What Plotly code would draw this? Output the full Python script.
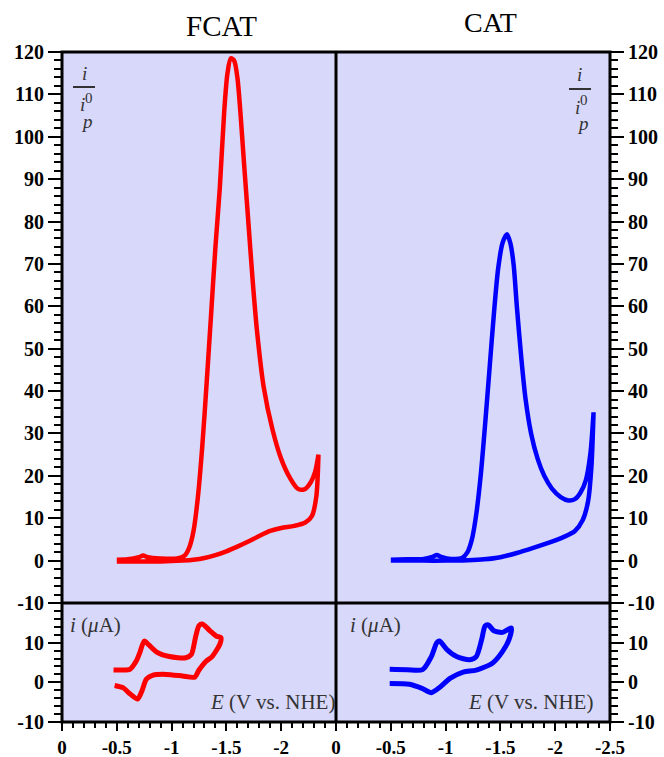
import plotly.graph_objects as go

# ---------------- data ----------------
# FCAT main CV (normalised current i/i0p vs E)
fcat_fwd_E = [-0.50, -0.60, -0.70, -0.74, -0.78, -0.90, -1.05, -1.12, -1.16, -1.20, -1.24, -1.28,
              -1.32, -1.36, -1.40, -1.44, -1.48, -1.51, -1.54, -1.57, -1.60, -1.63, -1.66, -1.70,
              -1.74, -1.78, -1.84, -1.92, -2.00, -2.08, -2.15, -2.21, -2.27, -2.31, -2.34]
fcat_fwd_i = [0.2, 0.3, 0.8, 1.2, 0.8, 0.5, 0.5, 1.2, 3, 7, 15, 27,
              42, 58, 74, 88, 106, 115, 118.5, 118, 114, 105, 94, 80,
              66, 54, 41, 31, 24, 19.5, 17, 16.8, 18.5, 21, 25]
fcat_rev_E = [-2.34, -2.32, -2.28, -2.22, -2.12, -2.00, -1.90, -1.80, -1.70, -1.60, -1.50,
              -1.40, -1.30, -1.20, -1.10, -0.90, -0.70, -0.50]
fcat_rev_i = [25, 15, 10.5, 9, 8.2, 7.7, 7, 5.8, 4.5, 3.3, 2.2, 1.3, 0.6, 0.2, 0, -0.2, -0.2, -0.2]

# CAT main CV
cat_fwd_E = [-0.50, -0.65, -0.80, -0.88, -0.92, -0.96, -1.05, -1.15, -1.20, -1.24, -1.28, -1.32,
             -1.36, -1.40, -1.44, -1.48, -1.52, -1.56, -1.59, -1.62, -1.65, -1.69, -1.73, -1.78,
             -1.84, -1.90, -1.97, -2.05, -2.12, -2.18, -2.23, -2.28, -2.32, -2.35]
cat_fwd_i = [0.2, 0.3, 0.4, 0.9, 1.3, 0.9, 0.4, 0.6, 2, 5, 11, 20,
             32, 45, 58, 69, 75, 77, 75, 70, 60, 48, 38, 30,
             24, 20, 17, 15, 14.2, 14.5, 16, 19, 25, 35]
cat_rev_E = [-2.35, -2.33, -2.30, -2.25, -2.18, -2.08, -1.95, -1.80, -1.65, -1.50, -1.35, -1.20,
             -1.00, -0.80, -0.50]
cat_rev_i = [35, 22, 14, 9.5, 7, 5.6, 4.3, 3, 1.8, 0.8, 0.3, 0.1, 0, 0, 0]

# FCAT inset CV (i in uA)
fcat_in_E = [-0.47, -0.55, -0.62, -0.68, -0.71, -0.75, -0.79, -0.86, -0.98, -1.13, -1.18,
             -1.22, -1.25, -1.28, -1.35, -1.41, -1.45,
             -1.44, -1.37, -1.31, -1.25, -1.21, -1.10, -0.95, -0.83, -0.77, -0.73, -0.69,
             -0.62, -0.56, -0.48]
fcat_in_i = [3.1, 3.1, 3.3, 5.5, 7.5, 10.4, 9.5, 7.7, 6.5, 6.2, 7.0,
             11.6, 14.3, 14.7, 13.0, 11.6, 11.3,
             9.6, 6.5, 5.2, 3.1, 1.3, 1.6, 2.0, 1.8, 0.8, -2.1, -4.2,
             -2.9, -1.4, -0.8]

# CAT inset CV (i in uA)
cat_in_E = [-0.49, -0.65, -0.79, -0.87, -0.92, -0.945, -1.01, -1.10, -1.22, -1.28, -1.33,
            -1.36, -1.39, -1.44, -1.52, -1.60,
            -1.58, -1.52, -1.43, -1.28, -1.16, -1.04, -0.945, -0.87, -0.79, -0.67, -0.49]
cat_in_i = [3.3, 3.2, 3.2, 6.5, 10.0, 10.4, 8.3, 6.5, 5.7, 6.5, 10.9,
            14.2, 14.5, 13.0, 12.6, 13.7,
            10.9, 7.8, 4.9, 3.1, 2.6, 1.0, -1.3, -2.6, -1.6, -0.5, -0.3]

titles = ["FCAT", "CAT"]
y_main_ticks = [-10, 0, 10, 20, 30, 40, 50, 60, 70, 80, 90, 100, 110, 120]
y_main_labels = ["-10", "0", "10", "20", "30", "40", "50", "60", "70", "80", "90", "100", "110", "120"]
y_in_ticks = [-10, 0, 10]
y_in_labels = ["-10", "0", "10"]
x_left_ticks = [0, -0.5, -1, -1.5, -2]
x_left_labels = ["0", "-0.5", "-1", "-1.5", "-2"]
x_right_ticks = [0, -0.5, -1, -1.5, -2, -2.5]
x_right_labels = ["0", "-0.5", "-1", "-1.5", "-2", "-2.5"]

# ---------------- layout geometry ----------------
W, H = 664, 757
ML, MR, MT, MB = 62, 54, 52, 35
PW, PH = W - ML - MR, H - MT - MB
INSET = 119 / PH


def px(x):
    return (x - ML) / PW


def py(y):
    return (H - MB - y) / PH


RED = "#ff0000"
BLUE = "#0000ff"
BG = "#d8d8fa"
SERIF = "Liberation Serif, Times New Roman, serif"

fig = go.Figure()
lw_main = 4.5
lw_in = 5
fig.add_trace(go.Scatter(x=fcat_fwd_E + fcat_rev_E, y=fcat_fwd_i + fcat_rev_i, mode="lines",
                         line=dict(color=RED, width=lw_main, shape="spline", smoothing=0.8),
                         xaxis="x", yaxis="y", hoverinfo="skip"))
fig.add_trace(go.Scatter(x=cat_fwd_E + cat_rev_E, y=cat_fwd_i + cat_rev_i, mode="lines",
                         line=dict(color=BLUE, width=lw_main, shape="spline", smoothing=0.8),
                         xaxis="x2", yaxis="y2", hoverinfo="skip"))
fig.add_trace(go.Scatter(x=fcat_in_E, y=fcat_in_i, mode="lines",
                         line=dict(color=RED, width=lw_in, shape="spline", smoothing=0.7),
                         xaxis="x3", yaxis="y3", hoverinfo="skip"))
fig.add_trace(go.Scatter(x=cat_in_E, y=cat_in_i, mode="lines",
                         line=dict(color=BLUE, width=lw_in, shape="spline", smoothing=0.7),
                         xaxis="x4", yaxis="y4", hoverinfo="skip"))

tickfont = dict(family=SERIF, size=20, color="black", weight="bold")
xtickfont = dict(family=SERIF, size=19, color="black", weight="bold")


def xax(domain, anchor, show, tv=None, tt=None):
    d = dict(domain=domain, anchor=anchor, range=[0, -2.5], showgrid=False, zeroline=False,
             showline=False, fixedrange=True)
    if show:
        d.update(tickmode="array", tickvals=tv, ticktext=tt, ticks="outside", ticklen=8,
                 tickwidth=2, tickcolor="black", tickfont=xtickfont, ticklabelstandoff=0,
                 minor=dict(tickmode="linear", tick0=0, dtick=0.1, ticks="outside", ticklen=5,
                            tickwidth=2, tickcolor="black"))
    else:
        d.update(showticklabels=False, ticks="")
    return d


def yax(domain, anchor, side, rng, tv, tt):
    return dict(domain=domain, anchor=anchor, side=side, range=rng, showgrid=False,
                zeroline=False, showline=False, fixedrange=True,
                tickmode="array", tickvals=tv, ticktext=tt, ticks="outside", ticklen=13,
                tickwidth=2, tickcolor="black", tickfont=tickfont, ticklabelstandoff=0,
                minor=dict(tickmode="linear", tick0=0, dtick=2, ticks="outside", ticklen=7,
                           tickwidth=2, tickcolor="black"))


fig.update_layout(
    width=W, height=H,
    margin=dict(l=ML, r=MR, t=MT, b=MB, autoexpand=False),
    paper_bgcolor="white", plot_bgcolor=BG,
    showlegend=False,
    xaxis=xax([0, 0.5], "y", False),
    xaxis2=xax([0.5, 1], "y2", False),
    xaxis3=xax([0, 0.5], "y3", True, x_left_ticks, x_left_labels),
    xaxis4=xax([0.5, 1], "y4", True, x_right_ticks, x_right_labels),
    yaxis=yax([INSET, 1], "x", "left", [-10, 120], y_main_ticks, y_main_labels),
    yaxis2=yax([INSET, 1], "x2", "right", [-10, 120], y_main_ticks, y_main_labels),
    yaxis3=yax([0, INSET], "x3", "left", [-10, 20], y_in_ticks, y_in_labels),
    yaxis4=yax([0, INSET], "x4", "right", [-10, 20], y_in_ticks, y_in_labels),
)

# frame lines
frame = dict(color="black", width=3)
shapes = [
    dict(type="rect", xref="paper", yref="paper", x0=0, x1=1, y0=0, y1=1, line=frame, layer="above"),
    dict(type="line", xref="paper", yref="paper", x0=0.5, x1=0.5, y0=0, y1=1, line=frame, layer="above"),
    dict(type="line", xref="paper", yref="paper", x0=0, x1=1, y0=INSET, y1=INSET, line=frame, layer="above"),
    # fraction bars
    dict(type="line", xref="paper", yref="paper", x0=px(73), x1=px(95), y0=py(87), y1=py(87),
         line=dict(color="#333333", width=2)),
    dict(type="line", xref="paper", yref="paper", x0=px(569), x1=px(591), y0=py(89), y1=py(89),
         line=dict(color="#333333", width=2)),
]
fig.update_layout(shapes=shapes)

ann_font = dict(family=SERIF, size=21, color="#333333")
frac_font = dict(family=SERIF, size=19, color="#333333")
sup_font = dict(family=SERIF, size=15, color="#333333")
anns = [
    dict(text=titles[0], x=px(221), y=py(26), font=dict(family=SERIF, size=29, color="black")),
    dict(text=titles[1], x=px(490), y=py(23), font=dict(family=SERIF, size=28, color="black")),
    dict(text="<i>i</i>", x=px(84), y=py(73), font=frac_font),
    dict(text="<i>i</i>", x=px(82), y=py(105), font=frac_font),
    dict(text="0", x=px(89), y=py(98), font=sup_font),
    dict(text="<i>p</i>", x=px(87), y=py(121), font=frac_font),
    dict(text="<i>i</i>", x=px(579), y=py(75), font=frac_font),
    dict(text="<i>i</i>", x=px(577), y=py(107), font=frac_font),
    dict(text="0", x=px(584), y=py(100), font=sup_font),
    dict(text="<i>p</i>", x=px(583), y=py(123), font=frac_font),
    dict(text="<i>i</i> (<i>μ</i>A)", x=px(95), y=py(625), font=ann_font),
    dict(text="<i>i</i> (<i>μ</i>A)", x=px(375), y=py(625), font=ann_font),
    dict(text="<i>E</i> (V vs. NHE)", x=px(272), y=py(702), font=ann_font),
    dict(text="<i>E</i> (V vs. NHE)", x=px(530), y=py(702), font=ann_font),
]
for a in anns:
    a.update(xref="paper", yref="paper", showarrow=False, xanchor="center", yanchor="middle")
fig.update_layout(annotations=anns)

fig.write_html("out.html", config={"displayModeBar": False})

# remove the default 8px page margin so the figure sits at the window origin
with open("out.html", "r", encoding="utf-8") as f:
    html = f.read()
html = html.replace("<body>", '<body style="margin:0;padding:0;">', 1)
with open("out.html", "w", encoding="utf-8") as f:
    f.write(html)
